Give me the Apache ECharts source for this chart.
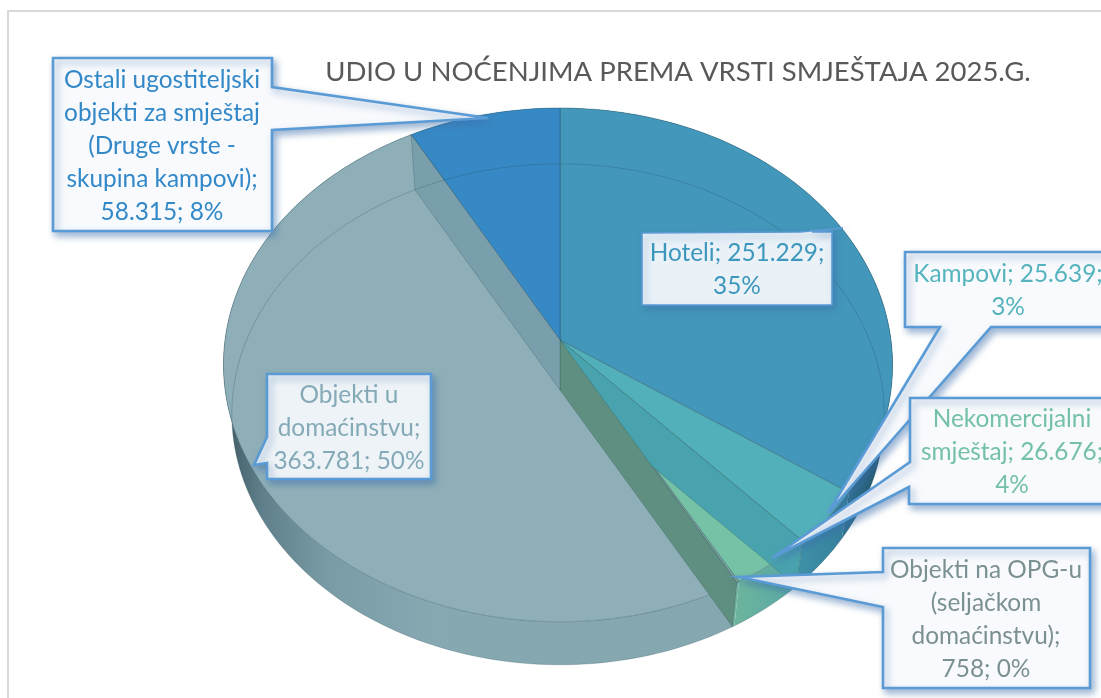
<!DOCTYPE html>
<html><head><meta charset="utf-8">
<style>html,body{margin:0;padding:0;background:#fff}#c{width:1101px;height:698px}</style>
<script src="https://cdn.jsdelivr.net/npm/echarts@6/dist/echarts.min.js"></script>
</head><body><div id="c"></div>
<script>
const titleText = 'UDIO U NOĆENJIMA PREMA VRSTI SMJEŠTAJA 2025.G.';
const categories = ['Hoteli','Kampovi','Nekomercijalni smještaj','Objekti na OPG-u (seljačkom domaćinstvu)','Objekti u domaćinstvu','Ostali ugostiteljski objekti za smještaj (Druge vrste - skupina kampovi)'];
const values = [251229,25639,26676,758,363781,58315];
const percents = [35,3,4,0,50,8];
const faceColors = ['#4397BB','#52B0BB','#76C2A6','#7FA59F','#8FAFB8','#3789C5'];
const textColors = ['#3D97BD','#56B4BE','#74C1A8','#7B9092','#84AAB7','#3388C8'];
const labelLines = [
  ['Hoteli; 251.229;','35%'],
  ['Kampovi; 25.639;','3%'],
  ['Nekomercijalni','smještaj; 26.676;','4%'],
  ['Objekti na OPG-u','(seljačkom','domaćinstvu);','758; 0%'],
  ['Objekti u','domaćinstvu;','363.781; 50%'],
  ['Ostali ugostiteljski','objekti za smještaj','(Druge vrste -','skupina kampovi);','58.315; 8%']
];

// ---- layout only ----
const G = {cx:560, topY:340, botY:390, A:254.5, B:333, k:0.097, s:0.975, lean:2};
const FONT = '24.4px Lato, sans-serif', LH = 33;
const calloutOrder = [5,0,1,2,3,4];
const callouts = {
  5:{c:[162,146],f:'#F8FAFD',p:[[53,58],[272,58],[272,87],[488,118],[272,130],[272,231],[53,231]]},
  0:{c:[737,270],f:'#EAF2F8',lw:1.6,p:[[642,233],[800,232],[843,228],[812,232],[832,232],[832,305],[642,305]]},
  1:{c:[1008,291],f:'#F8FAFD',p:[[905,252],[1112,252],[1112,327],[991,327],[828,513],[940,327],[905,327]]},
  2:{c:[1012,452],f:'#F8FAFD',p:[[910,398],[1112,398],[1112,504],[909,504],[909,487],[772,558],[910,462]]},
  3:{c:[986,620],f:'#F8FAFD',p:[[883,548],[1090,548],[1090,688],[883,688],[883,607],[739,577],[883,572]]},
  4:{c:[349,428],f:'#EEF3F7',p:[[267,374],[431,374],[431,479],[267,479],[267,463],[254,465],[267,437]]}
};
const wallStops = {
  4:[[235,'#48656F'],[262,'#5F808B'],[330,'#7A9CA7'],[430,'#86A8B1'],[735,'#85A7AF']],
  3:[[735,'#6DB49E'],[745,'#6DB49E']],
  2:[[735,'#6DB49E'],[800,'#56A8A5']],
  1:[[797,'#3F92A8'],[845,'#347F9C']],
  0:[[840,'#2F7896'],[888,'#234F66']],
  5:[[500,'#3789C5'],[560,'#3789C5']]
};

const total = values.reduce((a,b)=>a+b,0);
const bounds = []; { let acc=0; values.forEach(v=>{ bounds.push([acc/total*360,(acc+v)/total*360]); acc+=v; }); }
const rows = values.map((v,i)=>[i,bounds[i][0],bounds[i][1],v]);

function P(deg,lvl){
  const t=deg*Math.PI/180, u=Math.sin(t), v=Math.cos(t), d=1+G.k*v;
  const s=lvl?G.s:1, y0=lvl?G.botY:G.topY;
  return [G.cx+s*G.B*u/d-G.lean*u*u, y0-s*G.A*v/d];
}
function arc(a,b,lvl){
  const n=Math.max(2,Math.ceil(Math.abs(b-a)/1.5)), out=[];
  for(let i=0;i<=n;i++) out.push(P(a+(b-a)*i/n,lvl));
  return out;
}
const layer = (z,fn,data)=>({type:'custom',coordinateSystem:'none',z,silent:true,clip:false,animation:false,data:data||rows,
  encode:{},renderItem:(p,api)=>fn(p.dataIndex)});

const sideWalls = i=>{
  const [a,b]=bounds[i];
  const stops=wallStops[i], x0=stops[0][0], x1=stops[stops.length-1][0];
  return {type:'polygon',shape:{points:arc(a,b,0).concat(arc(b,a,1))},
    style:{fill:{type:'linear',x:x0,y:0,x2:x1,y2:0,global:true,
      colorStops:stops.map(s=>({offset:(s[0]-x0)/(x1-x0),color:s[1]}))},stroke:null}};
};
const faces = i=>{
  const [a,b]=bounds[i];
  return {type:'polygon',shape:{points:[[G.cx,G.topY]].concat(arc(a,b,0))},
    style:{fill:faceColors[i],stroke:'rgba(30,70,85,0.45)',lineWidth:0.8}};
};
const innerFill = {1:'#49A3AE',3:'#5F8F80',4:'#7A9FAC'};
const innerWalls = i=>{
  if(!innerFill[i]) return null;
  const b=bounds[i][1];
  return {type:'polygon',shape:{points:[[G.cx,G.topY],P(b,0),P(b,1),[G.cx,G.botY]]},
    style:{fill:innerFill[i],stroke:'rgba(40,80,85,0.35)',lineWidth:0.8}};
};
const rimLine = ()=>({type:'polygon',shape:{points:arc(0,360,1)},
  style:{fill:'none',stroke:'rgba(30,65,80,0.3)',lineWidth:0.8}});
const calloutShape = n=>{
  const i=calloutOrder[n], c=callouts[i];
  return {type:'group',children:[
    {type:'polygon',shape:{points:c.p},style:{fill:c.f,stroke:'#5B9BD5',lineWidth:c.lw||2.6,lineJoin:'miter',
      shadowBlur:7,shadowColor:'rgba(60,110,170,0.5)',shadowOffsetX:3,shadowOffsetY:4}},
    {type:'text',style:{text:labelLines[i].join('\n'),x:c.c[0],y:c.c[1],align:'center',verticalAlign:'middle',
      font:FONT,lineHeight:LH,fill:textColors[i]}}
  ]};
};

const chart = echarts.init(document.getElementById('c'),null,{renderer:'canvas'});
chart.setOption({
  backgroundColor:'#ffffff',animation:false,
  title:{text:titleText,left:673,top:67,textAlign:'center',textVerticalAlign:'middle',
    textStyle:{fontFamily:'Lato, sans-serif',fontSize:27.5,fontWeight:'normal',color:'#595959'}},
  graphic:[{type:'polyline',silent:true,shape:{points:[[1101,11],[8,11],[8,698]]},style:{stroke:'#D9D9D9',lineWidth:2,fill:null}}],
  series:[
    layer(1,sideWalls),
    layer(2,faces),
    layer(3,innerWalls),
    layer(4,rimLine,[[0]]),
    layer(5,calloutShape,calloutOrder.map(i=>[i,values[i],percents[i]]))
  ]
});
</script></body></html>
